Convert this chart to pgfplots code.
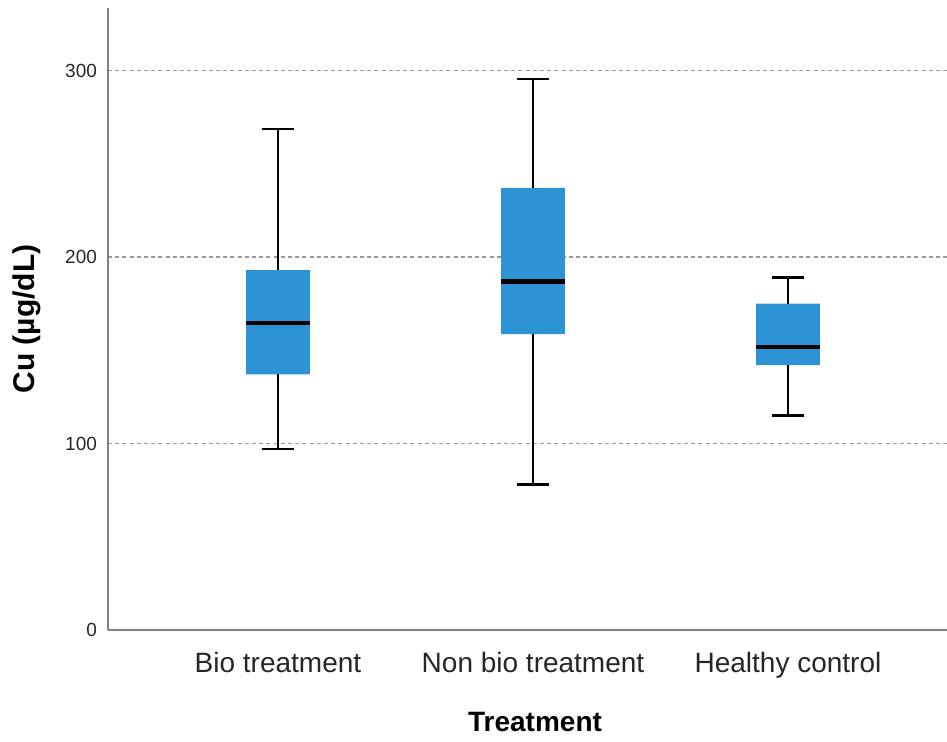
\documentclass[border=0pt]{standalone}
\usepackage{pgfplots}
\pgfplotsset{compat=1.18}
\usepackage{fontspec}
\setmainfont{Liberation Sans}
\definecolor{boxblue}{HTML}{2E93D4}
\begin{document}
\begin{tikzpicture}
\begin{axis}[
  scale only axis, width=419.5pt, height=311pt,
  xmin=0.3333, xmax=3.6235, ymin=0, ymax=333.5,
  axis x line=bottom, axis y line=left,
  axis line style={-, black!50, line width=0.9pt},
  xtick={1,2,3},
  xticklabels={Bio treatment, Non bio treatment, Healthy control},
  ytick={0,100,200,300},
  major tick length=0pt,
  ymajorgrids,
  grid style={black!40, line width=0.8pt, dash pattern=on 2pt off 1.6pt},
  /pgf/number format/assume math mode=true,
  yticklabel style={font=\fontsize{9.5}{11}\selectfont, text=black!85, xshift=-2pt},
  xticklabel style={font=\fontsize{14}{16}\selectfont, text=black!85, yshift=-7.5pt},
  every axis y label/.style={at={(axis description cs:0,0.5)}, rotate=90, anchor=center, yshift=40.5pt, font=\fontsize{15}{17}\selectfont\bfseries},
  every axis x label/.style={at={(axis description cs:0.509,0)}, anchor=center, yshift=-46pt, font=\fontsize{14}{16}\selectfont\bfseries},
  ylabel={Cu (µg/dL)},
  xlabel={Treatment},
  box/.style={fill=boxblue, draw=none, forget plot},
  whisk/.style={black, line width=1.4pt, forget plot},
  med/.style={black, line width=2.4pt, forget plot},
]
% Bio treatment: lw 97, q1 137, med 164.6, q3 193, uw 268.6
\addplot[box] coordinates {(0.875,137) (1.125,137) (1.125,193) (0.875,193) (0.875,137)};
\addplot[whisk] coordinates {(1,193) (1,268.6)};
\addplot[whisk] coordinates {(0.9373,268.6) (1.0627,268.6)};
\addplot[whisk] coordinates {(1,137) (1,97)};
\addplot[whisk] coordinates {(0.9373,97) (1.0627,97)};
\addplot[med] coordinates {(0.875,164.6) (1.125,164.6)};
% Non bio treatment: lw 78, q1 158.7, med 187, q3 237, uw 295.4
\addplot[box] coordinates {(1.875,158.7) (2.125,158.7) (2.125,237) (1.875,237) (1.875,158.7)};
\addplot[whisk] coordinates {(2,237) (2,295.4)};
\addplot[whisk] coordinates {(1.9373,295.4) (2.0627,295.4)};
\addplot[whisk] coordinates {(2,158.7) (2,78)};
\addplot[whisk] coordinates {(1.9373,78) (2.0627,78)};
\addplot[med] coordinates {(1.875,187) (2.125,187)};
% Healthy control: lw 115, q1 142, med 151.7, q3 175, uw 189
\addplot[box] coordinates {(2.875,142) (3.125,142) (3.125,175) (2.875,175) (2.875,142)};
\addplot[whisk] coordinates {(3,175) (3,189)};
\addplot[whisk] coordinates {(2.9373,189) (3.0627,189)};
\addplot[whisk] coordinates {(3,142) (3,115)};
\addplot[whisk] coordinates {(2.9373,115) (3.0627,115)};
\addplot[med] coordinates {(2.875,151.7) (3.125,151.7)};
\end{axis}
\pgfresetboundingbox
\path ([xshift=-54pt,yshift=-56pt]current axis.south west) rectangle ([yshift=4pt]current axis.north east);
\end{tikzpicture}
\end{document}
